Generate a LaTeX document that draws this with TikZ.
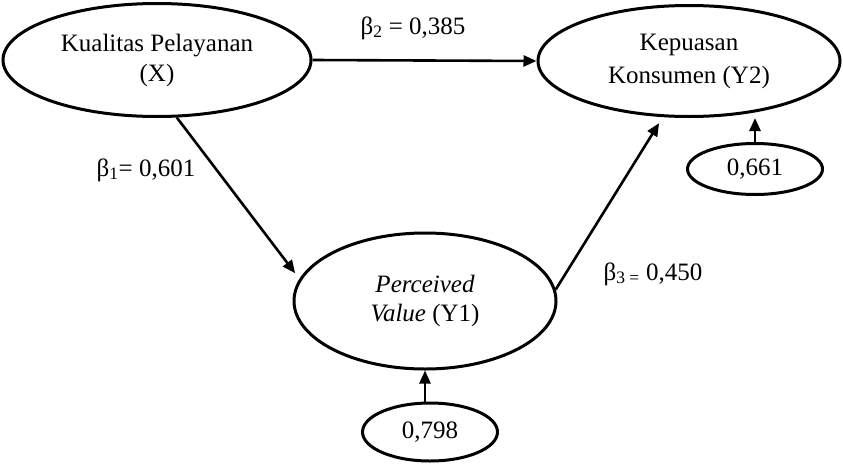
\documentclass[tikz,border=0pt]{standalone}
\usepackage{fontspec}
\setmainfont{Liberation Serif}
\usetikzlibrary{shapes.geometric,arrows.meta}
\begin{document}
\begin{tikzpicture}[x=1pt,y=-1pt,
  lv/.style={draw,ellipse,line width=3pt,inner sep=0pt,align=center,font=\fontsize{25}{30}\selectfont},
  conn/.style={line width=2.6pt,-{Triangle[length=13pt,width=11pt]}},
  coef/.style={font=\fontsize{25}{30}\selectfont,inner sep=0pt}]
\useasboundingbox (0,0) rectangle (843,463);
\node[lv,minimum width=308pt,minimum height=113pt] (X) at (157,60) {Kualitas Pelayanan\\(X)};
\node[lv,minimum width=302pt,minimum height=111pt,font=\fontsize{25}{35}\selectfont] (Y2) at (689,61) {\raisebox{-4pt}{Kepuasan}\\\raisebox{-2pt}{Konsumen (Y2)}};
\node[lv,minimum width=262pt,minimum height=136pt,font=\fontsize{25}{29}\selectfont] (Y1) at (425,301) {\textit{Perceived}\\\textit{Value} (Y1)};
\node[lv,minimum width=135pt,minimum height=51pt] (e1) at (755,169) {0,661};
\node[lv,minimum width=135pt,minimum height=58pt] (e2) at (430,432) {0,798};
\draw[conn] (X.east) -- (Y2.west);
\draw[conn,shorten >=7pt] (X.-71) -- (Y1.170);
\draw[conn,shorten >=7pt] (Y1.5) -- (Y2.245);
\draw[conn] (e1.north) -- (e1.north |- Y2.south);
\draw[conn] (Y1.south |- e2.north) -- (Y1.south);
\node[coef] (b2) at (413,28) {β\textsubscript{2} = 0,385};
\node[coef] (b1) at (146,170) {β\textsubscript{1}= 0,601};
\node[coef] (b3) at (653,274) {β\textsubscript{3 =} 0,450};
\end{tikzpicture}
\end{document}
